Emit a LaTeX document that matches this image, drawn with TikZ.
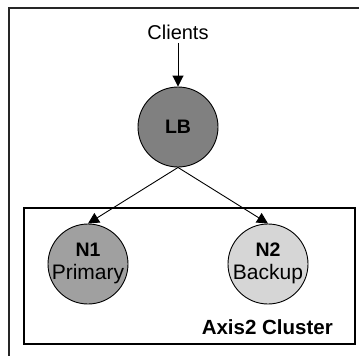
\documentclass[tikz,border=0pt]{standalone}
\usepackage{fontspec}
\setmainfont{Liberation Sans}
\usetikzlibrary{arrows.meta}
\definecolor{lbgray}{HTML}{808080}
\definecolor{nonegray}{HTML}{A0A0A0}
\definecolor{ntwogray}{HTML}{D6D6D6}
\begin{document}
\begin{tikzpicture}[x=1pt,y=-1pt,
  nodecircle/.style={circle,draw=black,line width=0.9pt,minimum size=80pt,inner sep=0pt},
  boldtext/.style={font=\bfseries\fontsize{19.5}{21}\selectfont,inner sep=0pt},
  plaintext/.style={font=\fontsize{21}{23}\selectfont,inner sep=0pt},
  conn/.style={line width=0.9pt,-{Triangle[length=11pt,width=11pt]}},
  frameline/.style={line width=1.3pt,draw=black!85}]
\useasboundingbox (0,0) rectangle (359,356);
\coordinate (ftr) at (359,8);
\coordinate (ftl) at (9,8);
\coordinate (fbl) at (9,356);
\draw[frameline] (ftr) -- (ftl) -- (fbl);
\node[draw=black,line width=1.1pt,minimum width=331pt,minimum height=136pt,inner sep=0pt] (cluster) at (189.5,276) {};
\node[font=\fontsize{20}{22}\selectfont] (clients) at (178,32) {Clients};
\node[nodecircle,fill=lbgray] (lb) at (178,127) {};
\node[boldtext] (lbt) at (178,127) {LB};
\node[nodecircle,fill=nonegray] (n1) at (88,264) {};
\node[boldtext] (n1t) at (88,250) {N1};
\node[plaintext] (n1s) at (88,274) {Primary};
\node[nodecircle,fill=ntwogray] (n2) at (268,264) {};
\node[boldtext] (n2t) at (268,250) {N2};
\node[plaintext] (n2s) at (268,274) {Backup};
\node[anchor=east,font=\bfseries\fontsize{20.5}{22}\selectfont,inner sep=0pt] (label) at (333,327) {Axis2 Cluster};
\draw[conn] (clients) -- (lb);
\draw[conn] (lb.south) -- (n1.north);
\draw[conn] (lb.south) -- (n2.north);
\end{tikzpicture}
\end{document}
